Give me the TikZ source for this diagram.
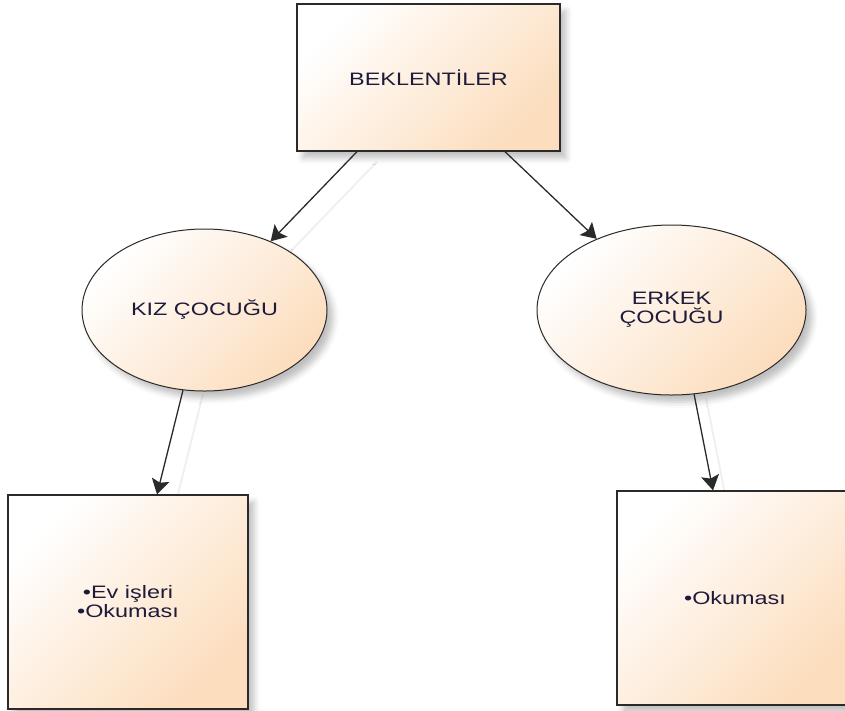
\documentclass[tikz,border=0pt]{standalone}
\usepackage{fontspec}
\setmainfont{Liberation Sans}[FakeStretch=1.3]
\usetikzlibrary{shapes.geometric,shadows.blur,arrows.meta,calc}
\definecolor{peach}{HTML}{FCDDBD}
\definecolor{edgecol}{HTML}{2A2A2A}
\definecolor{txtcol}{HTML}{1E1A3A}
\pgfdeclarelayer{bg}
\pgfsetlayers{bg,main}
\begin{document}
\begin{tikzpicture}[x=1pt,y=1pt,
  fillshape/.style={draw=edgecol, line width=1.3pt, top color=white, bottom color=peach, shading angle=45,
    blur shadow={shadow xshift=6pt,shadow yshift=-7pt,shadow blur radius=6pt,shadow opacity=25},
    font=\fontsize{18}{19}\selectfont, text=txtcol, align=center, inner sep=0pt},
  rectbox/.style={fillshape, rectangle},
  oval/.style={fillshape, ellipse, line width=1pt},
  arr/.style={draw=edgecol, line width=1.3pt, -{Stealth[length=15pt,width=18pt,inset=3pt]}},
  ghost/.style={draw=gray!12, line width=2pt}]
\useasboundingbox (0,0) rectangle (845,-710);

\node[rectbox, minimum width=263, minimum height=147] (top) at (428.5,-77.5) {BEKLENTİLER};
\node[oval, minimum width=245, minimum height=162] (kiz) at (204.5,-310) {KIZ ÇOCUĞU};
\node[oval, minimum width=269, minimum height=170] (erk) at (671.5,-310) {ERKEK\\ÇOCUĞU};
\node[rectbox, minimum width=240, minimum height=214] (lb) at (128,-602) {•Ev işleri\\•Okuması};
\node[rectbox, minimum width=236, minimum height=214] (rb) at (735,-598) {•Okuması};

\begin{pgfonlayer}{bg}
  \draw[ghost, transform canvas={xshift=20pt,yshift=-10pt}] ([xshift=-71.5]top.south) -- (kiz);
  \draw[ghost, transform canvas={xshift=20pt,yshift=-4pt}] (kiz.255) -- ([xshift=29]lb.north);
  \draw[ghost, transform canvas={xshift=12pt,yshift=-4pt}] (erk.285) -- ([xshift=-22]rb.north);
\end{pgfonlayer}

\draw[arr] ([xshift=-71.5]top.south) -- (kiz);
\draw[arr] ([xshift=76.5]top.south) -- (erk);
\draw[arr] (kiz.255) -- ([xshift=29]lb.north);
\draw[arr] (erk.285) -- ([xshift=-22]rb.north);
\end{tikzpicture}
\end{document}
